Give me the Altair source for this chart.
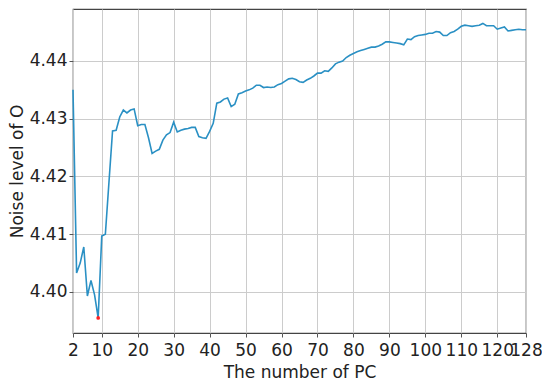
import altair as alt
import pandas as pd

pcs = list(range(2, 129))
noise = [
    4.4350, 4.4033, 4.4050, 4.4078, 4.3993, 4.4020, 4.3995, 4.3955, 4.4097, 4.4100,
    4.4190, 4.4279, 4.4280, 4.4303, 4.4315, 4.4310, 4.4315, 4.4317, 4.4288, 4.4290,
    4.4290, 4.4267, 4.4240, 4.4244, 4.4247, 4.4263, 4.4272, 4.4276, 4.4294, 4.4277,
    4.4280, 4.4282, 4.4283, 4.4285, 4.4285, 4.4269, 4.4267, 4.4266, 4.4278, 4.4292,
    4.4327, 4.4329, 4.4334, 4.4336, 4.4321, 4.4325, 4.4343, 4.4345, 4.4348, 4.4350,
    4.4353, 4.4358, 4.4358, 4.4354, 4.4355, 4.4354, 4.4355, 4.4359, 4.4361, 4.4365,
    4.4369, 4.4370, 4.4368, 4.4364, 4.4363, 4.4367, 4.4370, 4.4374, 4.4379, 4.4379,
    4.4383, 4.4382, 4.4388, 4.4395, 4.4398, 4.4400, 4.4406, 4.4410, 4.4413, 4.4416,
    4.4418, 4.4420, 4.4422, 4.4424, 4.4424, 4.4426, 4.4429, 4.4433, 4.4433, 4.4432,
    4.4431, 4.4430, 4.4428, 4.4438, 4.4437, 4.4442, 4.4444, 4.4445, 4.4446, 4.4448,
    4.4448, 4.4451, 4.4450, 4.4444, 4.4444, 4.4449, 4.4451, 4.4455, 4.4460, 4.4462,
    4.4461, 4.4460, 4.4461, 4.4462, 4.4465, 4.4461, 4.4461, 4.4461, 4.4455, 4.4457,
    4.4459, 4.4452, 4.4453, 4.4454, 4.4455, 4.4454, 4.4454,
]
x_ticks = [2, 10, 20, 30, 40, 50, 60, 70, 80, 90, 100, 110, 120, 128]
y_ticks = [4.40, 4.41, 4.42, 4.43, 4.44]
min_pc = [9]
min_val = [4.3955]

df = pd.DataFrame({"pc": pcs, "noise": noise})
dmin = pd.DataFrame({"pc": min_pc, "noise": min_val})

FONT = "DejaVu Sans"

xscale = alt.Scale(domain=[2, 128], nice=False, zero=False)
yscale = alt.Scale(domain=[4.3929, 4.449], nice=False, zero=False)

xaxis = alt.Axis(values=x_ticks, tickCount=30, title="The number of PC", labelFontSize=17,
                 titleFontSize=17, labelFont=FONT, titleFont=FONT,
                 labelColor="#222", titleColor="#222", titleFontWeight="normal",
                 gridColor="#cccccc", gridWidth=1, tickColor="#555", tickSize=4,
                 domain=False, labelPadding=5, titlePadding=6, labelOverlap=False,
                 labelFlush=False)
yaxis = alt.Axis(values=y_ticks, tickCount=10, format=".2f", title="Noise level of O",
                 labelFontSize=17, titleFontSize=17, labelFont=FONT, titleFont=FONT,
                 labelColor="#222", titleColor="#222", titleFontWeight="normal",
                 gridColor="#cccccc", gridWidth=1, tickColor="#555", tickSize=4,
                 domain=False, labelPadding=2, titlePadding=3, labelOverlap=False)

line = alt.Chart(df).mark_line(color="#2a90c4", strokeWidth=1.6).encode(
    x=alt.X("pc:Q", scale=xscale, axis=xaxis),
    y=alt.Y("noise:Q", scale=yscale, axis=yaxis),
)
pt = alt.Chart(dmin).mark_point(filled=True, color="#ff2020", size=14, opacity=1).encode(
    x=alt.X("pc:Q", scale=xscale),
    y=alt.Y("noise:Q", scale=yscale),
)

chart = alt.layer(line, pt).properties(
    width=453, height=324,
    autosize=alt.AutoSizeParams(type="none"),
    padding={"left": 65, "top": 1, "right": 16, "bottom": 50},
).configure_view(stroke="#444", strokeWidth=1.2)

chart.save("out.html", embed_options={"renderer": "svg", "actions": False})
